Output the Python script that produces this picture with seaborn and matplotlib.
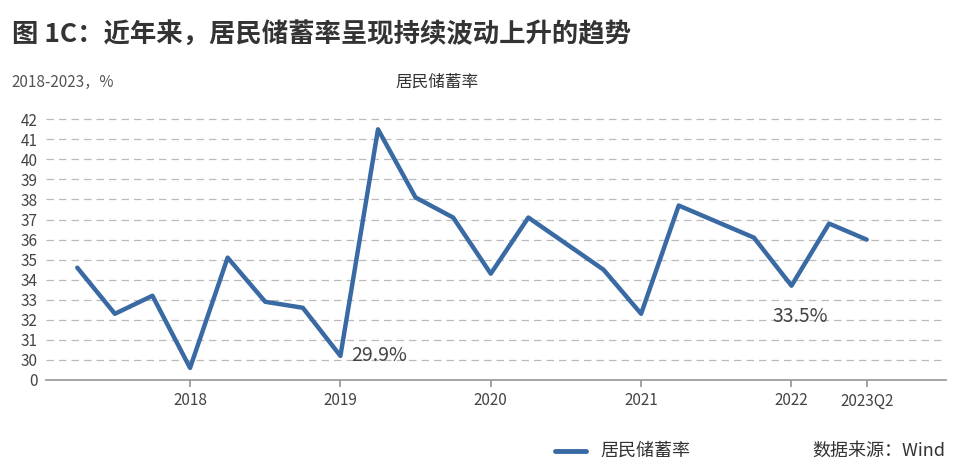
import matplotlib
matplotlib.use("Agg")
import matplotlib.pyplot as plt
import seaborn as sns
import pandas as pd

sns.set_theme(style="white")
plt.rcParams['font.family'] = ['Noto Sans CJK SC', 'DejaVu Sans']

values = [34.6, 32.3, 33.2, 29.6, 35.1, 32.9, 32.6, 30.2, 41.5, 38.1, 37.1, 34.3,
          37.1, 35.8, 34.5, 32.3, 37.7, 36.9, 36.1, 33.7, 36.8, 36.0]
xtick_idx = [3, 7, 11, 15, 19, 21]
xtick_labels = ["2018", "2019", "2020", "2021", "2022", "2023Q2"]
ytick_labels = ["0"] + [str(v) for v in range(30, 43)]
BASE = 29  # broken axis: tick "0" sits one unit below 30

df = pd.DataFrame({"i": range(len(values)), "pos": [v - BASE for v in values]})

fig = plt.figure(figsize=(9.6, 4.72), dpi=100)
ax = fig.add_axes([0.048, 0.195, 0.937, 0.565])
color = "#3a6aa3"
sns.lineplot(data=df, x="i", y="pos", ax=ax, color=color, linewidth=3.2)

ax.set_ylim(0, 13.3)
ax.set_yticks(range(14))
ax.set_yticklabels(ytick_labels, fontsize=11, color="#444444")
ax.set_xlim(-0.83, 23.1)
ax.set_xticks(xtick_idx)
ax.set_xticklabels(xtick_labels, fontsize=11, color="#444444")
ax.set_xlabel(""); ax.set_ylabel("")
for y in range(1, 14):
    ax.axhline(y, color="#bbbbbb", linestyle=(0, (6, 4)), linewidth=0.9, zorder=0)
for s in ["top", "right", "left"]:
    ax.spines[s].set_visible(False)
ax.spines["bottom"].set_color("#999999")
ax.tick_params(axis="x", length=5, color="#999999", bottom=True, pad=4)
ax.tick_params(axis="y", length=0, pad=6)

ax.annotate("29.9%", (7, 30.2 - BASE), xytext=(8, 0), textcoords="offset points",
            fontsize=14, color="#444444", va="center")
ax.annotate("33.5%", (19, 33.7 - BASE), xytext=(-14, -22), textcoords="offset points",
            fontsize=14, color="#444444", va="center")

fig.text(0.012, 0.925, "图 1C：近年来，居民储蓄率呈现持续波动上升的趋势", fontsize=19,
         fontweight="bold", color="#333333", va="center")
fig.text(0.012, 0.825, "2018-2023，%", fontsize=11, color="#555555", va="center")
fig.text(0.455, 0.825, "居民储蓄率", fontsize=12, color="#333333", va="center", ha="center")
fig.lines.append(plt.Line2D([0.578, 0.61], [0.045, 0.045], transform=fig.transFigure,
                            color=color, linewidth=3.5))
fig.text(0.625, 0.045, "居民储蓄率", fontsize=13, color="#333333", va="center")
fig.text(0.985, 0.045, "数据来源：Wind", fontsize=13, color="#333333", va="center", ha="right")

fig.savefig("out.png", dpi=100)
